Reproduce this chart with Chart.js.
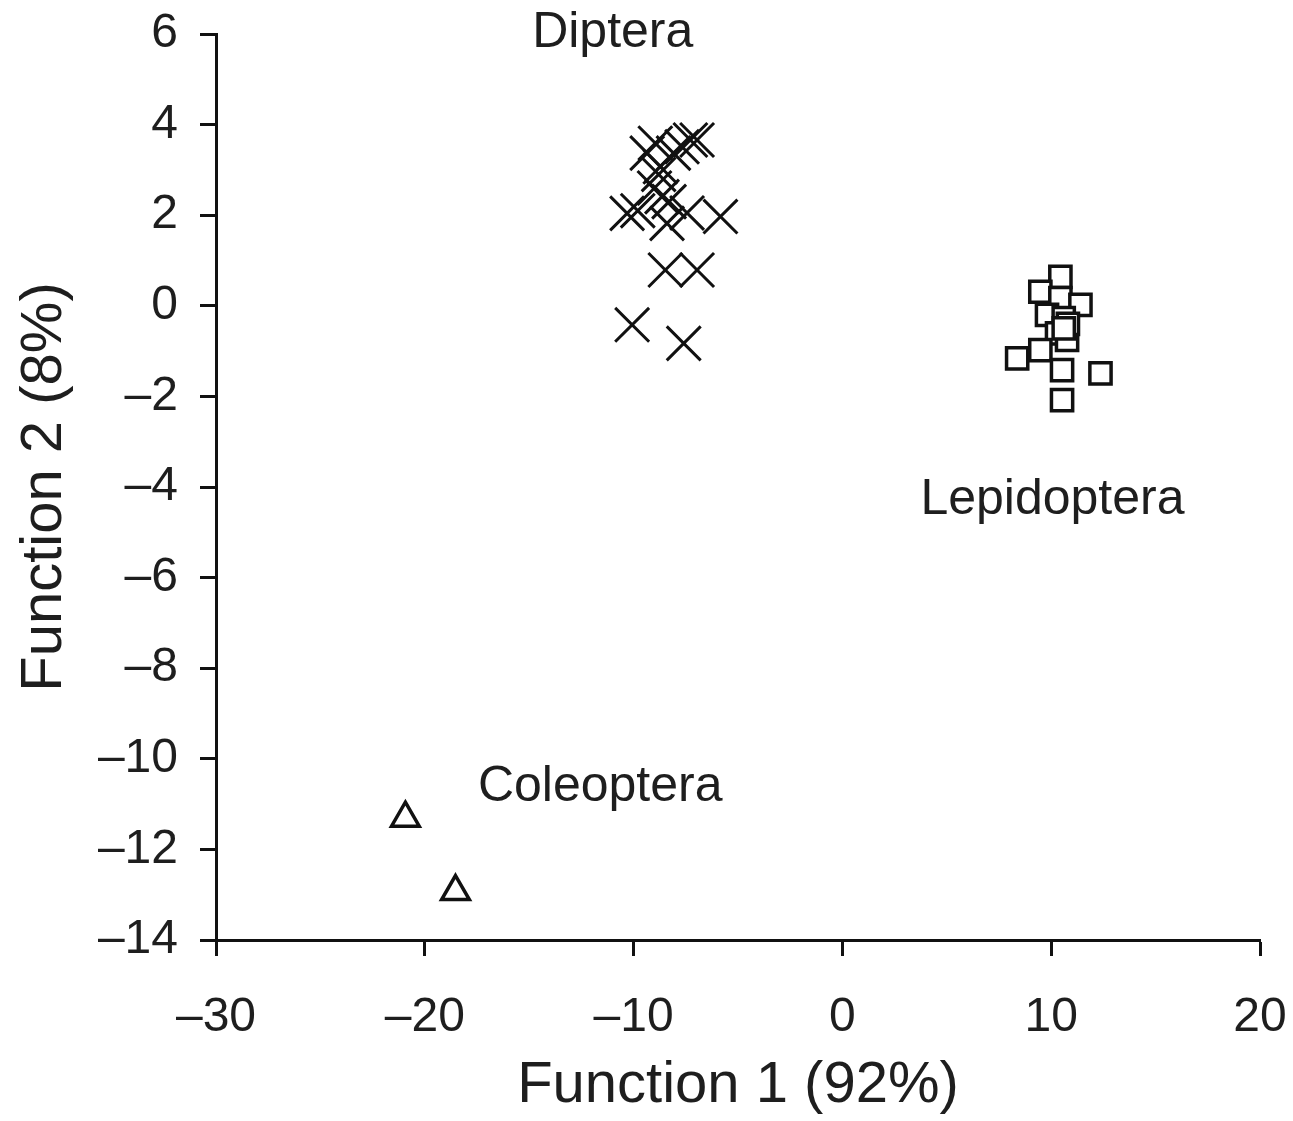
<!DOCTYPE html>
<html>
<head>
<meta charset="utf-8">
<script src="https://cdn.jsdelivr.net/npm/chart.js@4.4.1/dist/chart.umd.min.js"></script>
<style>
  html, body { margin: 0; padding: 0; background: #fff; }
  #wrap { width: 1293px; height: 1121px; }
</style>
</head>
<body>
<div id="wrap"><canvas id="canvas"></canvas></div>
<script>
// discriminant scores
const dipteraX = [-9.35, -8.96, -7.68, -7.28, -6.96, -8.09, -8.72, -8.64, -10.31, -8.40, -5.84, -7.44, -8.48, -6.96, -10.07, -7.60, -9.0, -8.3, -9.8, -8.8];
const dipteraY = [3.37, 3.59, 3.51, 3.66, 3.66, 3.37, 3.07, 2.41, 2.04, 1.82, 1.97, 2.05, 0.79, 0.79, -0.42, -0.83, 2.6, 2.3, 2.1, 2.9];

const lepidX = [10.44, 9.48, 10.44, 11.40, 9.80, 10.6, 10.28, 10.76, 8.37, 9.48, 10.52, 12.36, 10.52, 10.8, 10.6];
const lepidY = [0.64, 0.31, 0.17, 0.02, -0.20, -0.27, -0.61, -0.75, -1.16, -0.98, -1.42, -1.49, -2.08, -0.4, -0.5];

const coleoX = [-20.93, -18.53];
const coleoY = [-11.31, -12.93];

const groupNames = ['Diptera', 'Lepidoptera', 'Coleoptera'];
const labelX = [-11.0, 10.06, -11.6];
const labelY = [6.02, -4.29, -10.62];

const xTicks = [-30, -20, -10, 0, 10, 20];
const yTicks = [-14, -12, -10, -8, -6, -4, -2, 0, 2, 4, 6];

const FONT = '"Liberation Sans", Arial, sans-serif';
const INK = '#1e1e1e';

function pts(xs, ys) {
  return xs.map((x, i) => ({ x: x, y: ys[i] }));
}
function dash(v) {
  return String(v).replace('-', '\u2013');
}

const groupLabels = {
  id: 'groupLabels',
  afterDatasetsDraw(chart) {
    const c = chart.ctx;
    const xs = chart.scales.x, ys = chart.scales.y;
    c.save();
    c.fillStyle = INK;
    c.font = '50px ' + FONT;
    c.textAlign = 'center';
    c.textBaseline = 'middle';
    groupNames.forEach((n, i) => {
      c.fillText(n, xs.getPixelForValue(labelX[i]), ys.getPixelForValue(labelY[i]));
    });
    c.restore();
  }
};

const ctx = document.getElementById('canvas').getContext('2d');
const myChart = new Chart(ctx, {
  type: 'scatter',
  data: {
    datasets: [
      {
        label: 'Diptera',
        data: pts(dipteraX, dipteraY),
        pointStyle: 'crossRot',
        pointRadius: 24,
        borderColor: '#111',
        borderWidth: 3
      },
      {
        label: 'Lepidoptera',
        data: pts(lepidX, lepidY),
        pointStyle: 'rect',
        pointRadius: 15,
        borderColor: '#111',
        backgroundColor: '#fff',
        borderWidth: 3.5
      },
      {
        label: 'Coleoptera',
        data: pts(coleoX, coleoY),
        pointStyle: 'triangle',
        pointRadius: 16,
        borderColor: '#111',
        backgroundColor: '#fff',
        borderWidth: 3.5
      }
    ]
  },
  options: {
    responsive: true,
    maintainAspectRatio: false,
    animation: false,
    layout: { padding: { top: 34, right: 33, left: 0, bottom: 0 } },
    plugins: {
      legend: { display: false },
      tooltip: { enabled: false }
    },
    scales: {
      x: {
        type: 'linear',
        min: -30,
        max: 20,
        afterBuildTicks: s => { s.ticks = xTicks.map(v => ({ value: v })); },
        afterFit: s => { s.height = 181; s.paddingLeft = 0; s.paddingRight = 0; },
        ticks: {
          color: INK,
          font: { family: FONT, size: 48 },
          padding: 33,
          maxRotation: 0,
          callback: v => dash(v)
        },
        grid: { drawOnChartArea: false, tickLength: 16, tickColor: '#111', tickWidth: 3 },
        border: { color: '#111', width: 3 },
        title: {
          display: true,
          text: 'Function 1 (92%)',
          color: INK,
          font: { family: FONT, size: 58 },
          padding: { bottom: 0 }
        }
      },
      y: {
        type: 'linear',
        min: -14,
        max: 6,
        afterBuildTicks: s => { s.ticks = yTicks.map(v => ({ value: v })); },
        afterFit: s => { s.width = 216; s.paddingTop = 0; s.paddingBottom = 0; },
        ticks: {
          color: INK,
          font: { family: FONT, size: 48 },
          padding: 22,
          callback: v => dash(v)
        },
        grid: { drawOnChartArea: false, tickLength: 16, tickColor: '#111', tickWidth: 3 },
        border: { color: '#111', width: 3 },
        title: {
          display: true,
          text: 'Function 2 (8%)',
          color: INK,
          font: { family: FONT, size: 58 },
          padding: { top: 10 }
        }
      }
    }
  },
  plugins: [groupLabels]
});
</script>
</body>
</html>
